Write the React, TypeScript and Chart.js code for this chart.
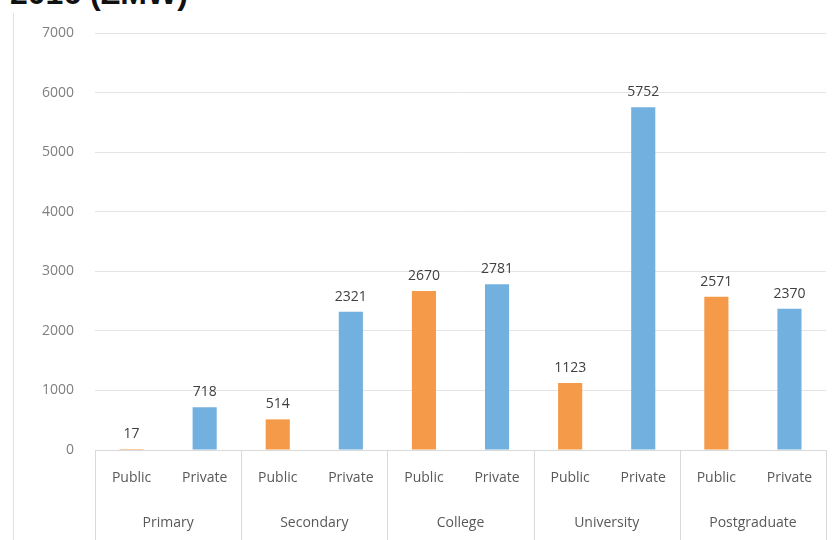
import React, { useEffect, useRef } from "react";
import { Chart, registerables } from "chart.js";

Chart.register(...registerables);

const TITLE = "2016 (ZMW)";
const levels = ["Primary", "Secondary", "College", "University", "Postgraduate"];
const sectors = ["Public", "Private"];
const publicFees = [17, 514, 2670, 1123, 2571];
const privateFees = [718, 2321, 2781, 5752, 2370];
const yTicks = [0, 1000, 2000, 3000, 4000, 5000, 6000, 7000];

const ORANGE = "#F49A48";
const BLUE = "#72B1DF";

export default function App() {
  const ref = useRef<HTMLCanvasElement | null>(null);

  useEffect(() => {
    document.body.style.margin = "0";
    const labels: string[] = [];
    const values: number[] = [];
    const colors: string[] = [];
    levels.forEach((_, i) => {
      labels.push(sectors[0]);
      values.push(publicFees[i]);
      colors.push(ORANGE);
      labels.push(sectors[1]);
      values.push(privateFees[i]);
      colors.push(BLUE);
    });

    const font = "'Open Sans', sans-serif";

    const valueLabels = {
      id: "valueLabels",
      afterDatasetsDraw(chart: any) {
        const ctx = chart.ctx;
        const meta = chart.getDatasetMeta(0);
        ctx.save();
        ctx.font = `14px ${font}`;
        ctx.fillStyle = "#404040";
        ctx.textAlign = "center";
        ctx.textBaseline = "bottom";
        meta.data.forEach((bar: any, i: number) => {
          ctx.fillText(String(values[i]), bar.x, bar.y - 8);
        });
        ctx.restore();
      },
    };

    const separators = {
      id: "separators",
      afterDraw(chart: any) {
        const ctx = chart.ctx;
        const xs = chart.scales.x;
        const area = chart.chartArea;
        ctx.save();
        ctx.strokeStyle = "#d9d9d9";
        ctx.lineWidth = 1;
        const positions: number[] = [area.left];
        for (let g = 1; g < levels.length; g++) {
          positions.push((xs.getPixelForValue(2 * g - 1) + xs.getPixelForValue(2 * g)) / 2);
        }
        positions.push(area.right);
        positions.forEach((px) => {
          const p = Math.round(px) + 0.5;
          ctx.beginPath();
          ctx.moveTo(p, area.bottom);
          ctx.lineTo(p, chart.height);
          ctx.stroke();
        });
        ctx.beginPath();
        ctx.moveTo(area.left, Math.round(area.bottom) + 0.5);
        ctx.lineTo(area.right, Math.round(area.bottom) + 0.5);
        ctx.stroke();
        ctx.restore();
      },
    };

    const chart = new Chart(ref.current as HTMLCanvasElement, {
      type: "bar",
      data: {
        labels,
        datasets: [
          {
            data: values,
            backgroundColor: colors,
            borderWidth: 0,
            categoryPercentage: 1,
            barPercentage: 0.33,
          },
        ],
      },
      options: {
        animation: false,
        responsive: false,
        maintainAspectRatio: false,
        layout: { padding: { left: 35, right: 13, top: 33, bottom: 0 } },
        plugins: {
          legend: { display: false },
          tooltip: { enabled: false },
          title: { display: false },
        },
        scales: {
          x: {
            type: "category",
            position: "bottom",
            grid: { display: false, drawTicks: false },
            border: { display: false },
            ticks: {
              color: "#595959",
              font: { family: font, size: 14 },
              padding: 20,
              maxRotation: 0,
              autoSkip: false,
            },
            afterFit: (s: any) => {
              s.height = 45;
            },
          },
          x2: {
            type: "category",
            position: "bottom",
            labels: levels,
            offset: true,
            grid: { display: false, drawTicks: false },
            border: { display: false },
            ticks: {
              color: "#595959",
              font: { family: font, size: 14 },
              padding: 20,
              maxRotation: 0,
              autoSkip: false,
            },
            afterFit: (s: any) => {
              s.height = 45;
            },
          },
          y: {
            min: 0,
            max: 7000,
            afterBuildTicks: (s: any) => {
              s.ticks = yTicks.map((v) => ({ value: v }));
            },
            grid: { color: "#e4e4e4", drawTicks: false, lineWidth: 1 },
            border: { display: false },
            ticks: {
              color: "#7f7f7f",
              font: { family: font, size: 14 },
              padding: 21,
              callback: (v: any) => String(v),
            },
            afterFit: (s: any) => {
              s.width = 60;
            },
          },
        },
      },
      plugins: [valueLabels, separators],
    });
    return () => chart.destroy();
  }, []);

  return (
    <div style={{ position: "relative", width: 839, height: 540, overflow: "hidden", background: "#fff" }}>
      <div
        style={{
          position: "absolute",
          left: 10,
          top: -23,
          fontFamily: "'Liberation Sans', Arial, sans-serif",
          fontWeight: "bold",
          fontSize: 32,
          lineHeight: "32px",
          color: "#111",
          whiteSpace: "nowrap",
        }}
      >
        {TITLE}
      </div>
      <div
        style={{
          position: "absolute",
          left: 13,
          top: 13,
          width: 1,
          height: 527,
          background: "#e0e0e0",
        }}
      />
      <canvas ref={ref} width={839} height={540} style={{ position: "absolute", left: 0, top: 0 }} />
    </div>
  );
}
